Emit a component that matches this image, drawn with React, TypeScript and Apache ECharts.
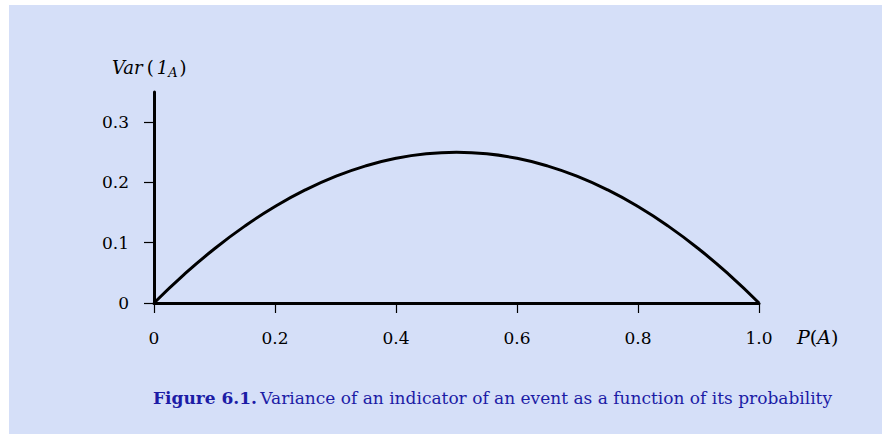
import React, { useEffect, useRef } from "react";
import * as echarts from "echarts";

const pValues = [0, 0.05, 0.1, 0.15, 0.2, 0.25, 0.3, 0.35, 0.4, 0.45, 0.5, 0.55, 0.6, 0.65, 0.7, 0.75, 0.8, 0.85, 0.9, 0.95, 1.0];
const varValues = [0, 0.0475, 0.09, 0.1275, 0.16, 0.1875, 0.21, 0.2275, 0.24, 0.2475, 0.25, 0.2475, 0.24, 0.2275, 0.21, 0.1875, 0.16, 0.1275, 0.09, 0.0475, 0];
const xTicks = [0, 0.2, 0.4, 0.6, 0.8, 1.0];
const yTicks = [0, 0.1, 0.2, 0.3];
const captionLabel = "Figure 6.1.";
const captionText = "Variance of an indicator of an event as a function of its probability";

const SERIF = "'DejaVu Serif', serif";
const BG = "#d5dff8";
const BLUE = "#1c1ca6";

export default function App() {
  const ref = useRef<HTMLDivElement>(null);
  useEffect(() => {
    document.body.style.margin = "0";
    const chart = echarts.init(ref.current!, null, { renderer: "svg" });
    chart.setOption({
      animation: false,
      backgroundColor: "#ffffff",
      graphic: [
        { type: "rect", z: -10, shape: { x: 9, y: 5, width: 873, height: 429 }, style: { fill: BG } },
        {
          type: "text", x: 112, y: 56,
          style: {
            text: "{i|Var}{n|(}{i|1}{s|A}{m|)}",
            rich: {
              i: { fontFamily: SERIF, fontStyle: "italic", fontSize: 18, fill: "#000" },
              n: { fontFamily: SERIF, fontSize: 18, fill: "#000", padding: [0, 3, 0, 4] },
              m: { fontFamily: SERIF, fontSize: 18, fill: "#000", padding: [0, 0, 0, 2] },
              s: { fontFamily: SERIF, fontStyle: "italic", fontSize: 13, fill: "#000", padding: [10, 0, 0, 0] },
            },
          },
        },
        {
          type: "text", x: 797, y: 327,
          style: {
            text: "{i|P}{n|(}{i|A}{n|)}",
            rich: {
              i: { fontFamily: SERIF, fontStyle: "italic", fontSize: 19, fill: "#000" },
              n: { fontFamily: SERIF, fontSize: 19, fill: "#000" },
            },
          },
        },
        {
          type: "text", x: 153, y: 389,
          style: {
            text: "{b|" + captionLabel + "} {r|" + captionText + "}",
            rich: {
              b: { fontFamily: SERIF, fontWeight: "bold", fontSize: 17, fill: BLUE },
              r: { fontFamily: SERIF, fontSize: 17, fill: BLUE },
            },
          },
        },
      ],
      grid: { left: 154, right: 123, top: 92, bottom: 131, containLabel: false },
      xAxis: {
        type: "value", min: 0, max: 1, interval: 0.2,
        axisLine: { show: true, lineStyle: { color: "#000", width: 3 } },
        axisTick: { show: true, length: 10, lineStyle: { color: "#000", width: 1.2 } },
        splitLine: { show: false },
        axisLabel: {
          customValues: xTicks, margin: 26, color: "#000", fontFamily: SERIF, fontSize: 17,
          formatter: (v: number) => (v === 0 ? "0" : v.toFixed(1)),
        },
      },
      yAxis: {
        type: "value", min: 0, max: 0.35,
        axisLine: { show: true, lineStyle: { color: "#000", width: 3 } },
        axisTick: { show: true, length: 10, lineStyle: { color: "#000", width: 1.2 }, customValues: yTicks },
        splitLine: { show: false },
        axisLabel: {
          customValues: yTicks, margin: 25, color: "#000", fontFamily: SERIF, fontSize: 17,
          formatter: (v: number) => (v === 0 ? "0" : v.toFixed(1)),
        },
      },
      series: [
        {
          type: "line", smooth: true, symbol: "none",
          data: pValues.map((p, i) => [p, varValues[i]]),
          lineStyle: { color: "#000", width: 3 },
        },
      ],
    });
    return () => chart.dispose();
  }, []);
  return <div ref={ref} style={{ width: 882, height: 434 }} />;
}
